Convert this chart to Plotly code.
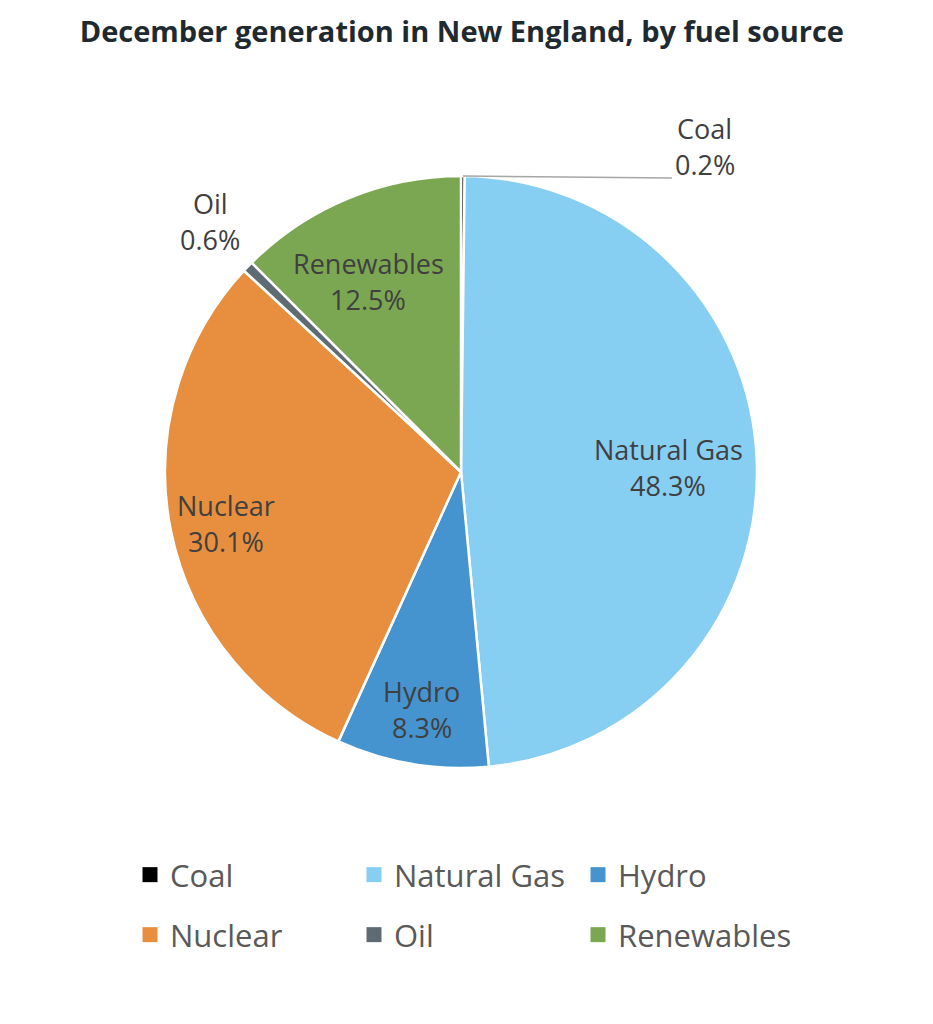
import math
import plotly.graph_objects as go

labels = ["Coal", "Natural Gas", "Hydro", "Nuclear", "Oil", "Renewables"]
values = [0.2, 48.3, 8.3, 30.1, 0.6, 12.5]
colors = ["#000000", "#87CEF3", "#4594CF", "#E88F3F", "#5E6B73", "#7CA752"]

# label placement style (radius fraction of pie; None = custom callout)
label_r = [None, 0.70, 0.80, 0.81, 1.19, 0.72]

W, H = 933, 1024
cx, cy, R = 461, 472, 296
FONT = "Open Sans"

fig = go.Figure()
fig.add_trace(go.Pie(
    labels=labels, values=values, sort=False, direction="clockwise", rotation=0,
    marker=dict(colors=colors, line=dict(color="white", width=2.5)),
    textinfo="none", showlegend=False,
    domain=dict(x=[(cx - R) / W, (cx + R) / W], y=[1 - (cy + R) / H, 1 - (cy - R) / H]),
    hoverinfo="label+percent",
))

# legend entries (two rows)
for i, (lab, col) in enumerate(zip(labels, colors)):
    fig.add_trace(go.Scatter(
        x=[None], y=[None], mode="markers", name=lab,
        marker=dict(symbol="square", size=15, color=col),
        legend="legend" if i < 3 else "legend2", showlegend=True,
    ))

def px2paper(x, y):
    return x / W, 1 - y / H

total = sum(values)
cum = 0.0
for lab, v, rf in zip(labels, values, label_r):
    mid = (cum + v / 2) / total * 2 * math.pi
    cum += v
    ex, ey = cx + R * math.sin(mid), cy - R * math.cos(mid)
    if rf is None:
        lx, ly = ex + 242, ey - 30
        x0, y0 = px2paper(ex, ey)
        x1, y1 = px2paper(lx - 33, ey + 2)
        fig.add_shape(type="line", xref="paper", yref="paper", x0=x0, y0=y0, x1=x1, y1=y1,
                      line=dict(color="#A6A6A6", width=1.5))
    else:
        lx, ly = cx + rf * R * math.sin(mid), cy - rf * R * math.cos(mid)
        if lab == "Renewables":
            lx -= 11; ly += 6
        elif lab == "Oil":
            lx += 3; ly -= 6
        else:
            ly += 4
    pct = f"{v / total * 100:.1f}%"
    for txt, dy in ((lab, -18), (pct, 18)):
        px_, py_ = px2paper(lx, ly + dy)
        fig.add_annotation(x=px_, y=py_, xref="paper", yref="paper", text=txt,
                           showarrow=False, xanchor="center", yanchor="middle",
                           font=dict(family=FONT, size=27, color="#404040"))

legend_style = dict(orientation="h", x=130 / W, xanchor="left", yanchor="middle",
                    entrywidth=179, entrywidthmode="pixels", itemwidth=30,
                    font=dict(family=FONT, size=31, color="#595959"),
                    bgcolor="rgba(0,0,0,0)")

fig.update_layout(
    width=W, height=H,
    margin=dict(l=0, r=0, t=0, b=0, autoexpand=False),
    paper_bgcolor="white", plot_bgcolor="white",
    xaxis=dict(visible=False), yaxis=dict(visible=False),
    title=dict(text="<b>December generation in New England, by fuel source</b>",
               x=0.495, xanchor="center", y=1 - 32 / H, yanchor="middle",
               font=dict(family=FONT, size=29, color="#1F2A30")),
    legend=dict(legend_style, y=1 - 875 / H),
    legend2=dict(legend_style, y=1 - 935 / H),
)

fig.write_html("out.html", config={"displayModeBar": False},
               post_script="document.body.style.margin='0';")
